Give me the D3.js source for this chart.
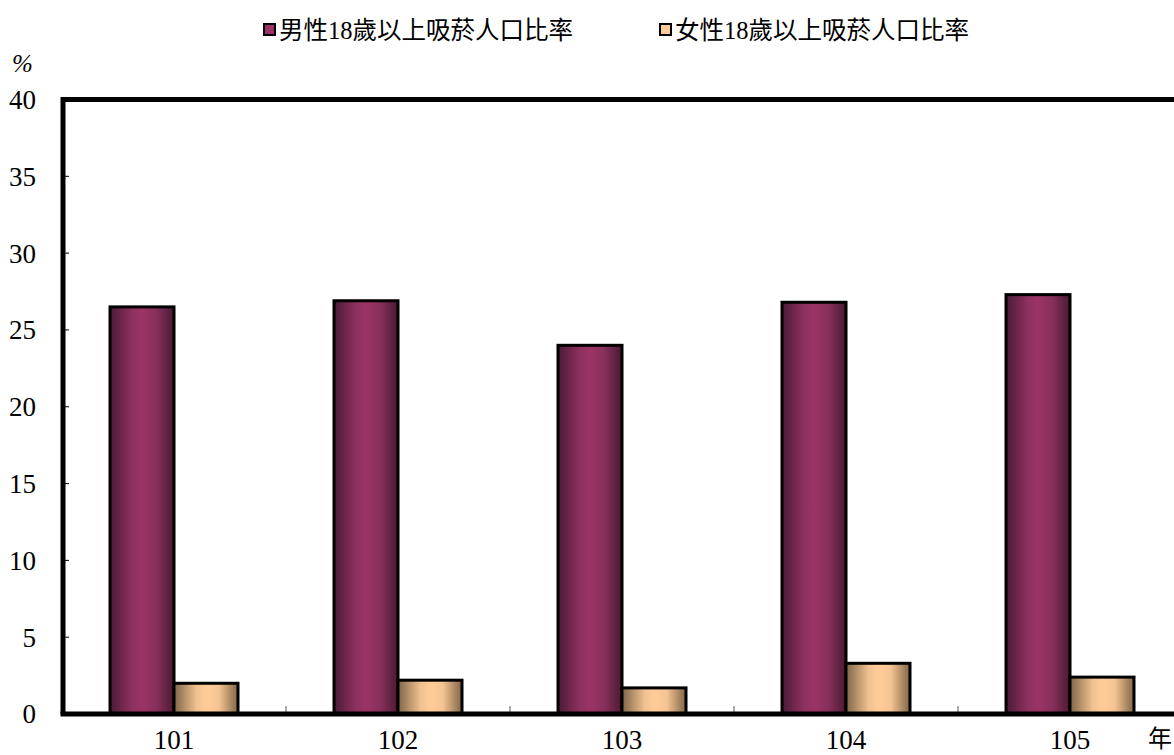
<!DOCTYPE html>
<html>
<head>
<meta charset="utf-8">
<script src="https://cdn.jsdelivr.net/npm/d3@7"></script>
<style>
	body { margin: 0; background: #fff; }
	text { font-family: "Liberation Serif", "Noto Sans CJK TC", serif; fill: #000; }
</style>
</head>
<body>
<svg width="1174" height="755"></svg>
<script>
var years = ["101", "102", "103", "104", "105"];
var seriesNames = ["男性18歲以上吸菸人口比率", "女性18歲以上吸菸人口比率"];
var maleRate = [26.5, 26.9, 24.0, 26.8, 27.3];
var femaleRate = [2.0, 2.2, 1.7, 3.3, 2.4];
var yTicks = [0, 5, 10, 15, 20, 25, 30, 35, 40];

var svg = d3.select("svg");
var plotLeft = 63, plotRight = 1183, plotTop = 99.5, plotBottom = 714;

var defs = svg.append("defs");
function grad(id, stops) {
	var g = defs.append("linearGradient").attr("id", id)
		.attr("x1", "0%").attr("x2", "100%").attr("y1", "0%").attr("y2", "0%");
	stops.forEach(function (s) {
		g.append("stop").attr("offset", s[0]).attr("stop-color", s[1]);
	});
}
grad("gMale", [["0%", "#4a1b36"], ["35%", "#8f3160"], ["50%", "#9b3466"], ["72%", "#88305b"], ["100%", "#4a1a34"]]);
grad("gFemale", [["0%", "#7e6549"], ["35%", "#f0c08f"], ["50%", "#ffcc99"], ["70%", "#f6c493"], ["100%", "#806448"]]);
var fills = ["url(#gMale)", "url(#gFemale)"];
var legendFills = ["#993366", "#ffcc99"];

var x = d3.scaleBand().domain(years).range([plotLeft - 1, plotRight - 1]);
var x1 = d3.scaleBand().domain([0, 1]).range([48, 176]);
var y = d3.scaleLinear().domain([0, 40]).range([plotBottom, plotTop]);

var data = years.map(function (yr, i) { return {year: yr, values: [maleRate[i], femaleRate[i]]}; });

// y tick labels
svg.append("g").selectAll("text").data(yTicks).enter().append("text")
	.attr("x", 36).attr("y", function (d) { return y(d); })
	.attr("dy", "0.35em").attr("text-anchor", "end")
	.style("font-size", "27px")
	.text(function (d) { return d; });

// inner tick marks
svg.append("g").selectAll("line").data(yTicks.slice(1, -1)).enter().append("line")
	.attr("x1", plotLeft).attr("x2", plotLeft + 6)
	.attr("y1", function (d) { return y(d); }).attr("y2", function (d) { return y(d); })
	.attr("stroke", "#000").attr("stroke-width", 1);

svg.append("g").selectAll("line").data(years.slice(1)).enter().append("line")
	.attr("x1", function (d) { return x(d); }).attr("x2", function (d) { return x(d); })
	.attr("y1", plotBottom).attr("y2", plotBottom - 8)
	.attr("stroke", "#555").attr("stroke-width", 1);

// bars
var grp = svg.append("g").selectAll("g").data(data).enter().append("g")
	.attr("transform", function (d) { return "translate(" + x(d.year) + ",0)"; });
grp.selectAll("rect").data(function (d) { return d.values; }).enter().append("rect")
	.attr("x", function (d, i) { return x1(i); })
	.attr("width", x1.bandwidth())
	.attr("y", function (d) { return y(d); })
	.attr("height", function (d) { return plotBottom - y(d); })
	.attr("fill", function (d, i) { return fills[i]; })
	.attr("stroke", "#000").attr("stroke-width", 3);

// frame
svg.append("path")
	.attr("d", "M" + plotLeft + "," + plotBottom + "V" + plotTop + "H" + plotRight)
	.attr("fill", "none").attr("stroke", "#000").attr("stroke-width", 5);
svg.append("line")
	.attr("x1", plotLeft - 2.5).attr("x2", plotRight).attr("y1", plotBottom).attr("y2", plotBottom)
	.attr("stroke", "#000").attr("stroke-width", 5);

// x labels
svg.append("g").selectAll("text").data(years).enter().append("text")
	.attr("x", function (d) { return x(d) + x.bandwidth() / 2; })
	.attr("y", 749).attr("text-anchor", "middle")
	.style("font-size", "27px")
	.text(function (d) { return d; });

svg.append("text").attr("x", 1148).attr("y", 747).style("font-size", "24px").text("年");
svg.append("text").attr("x", 12).attr("y", 72).style("font-size", "25px").style("font-style", "italic").text("%");

// legend
var legX = [264, 660];
var leg = svg.append("g").selectAll("g").data(seriesNames).enter().append("g")
	.attr("transform", function (d, i) { return "translate(" + legX[i] + ",30)"; });
leg.append("rect").attr("x", 0).attr("y", -6).attr("width", 11).attr("height", 11)
	.attr("fill", function (d, i) { return legendFills[i]; })
	.attr("stroke", "#000").attr("stroke-width", 2);
leg.append("text").attr("x", 15).attr("y", 0).attr("dy", "0.35em")
	.style("font-size", "24.5px")
	.text(function (d) { return d; });
</script>
</body>
</html>
